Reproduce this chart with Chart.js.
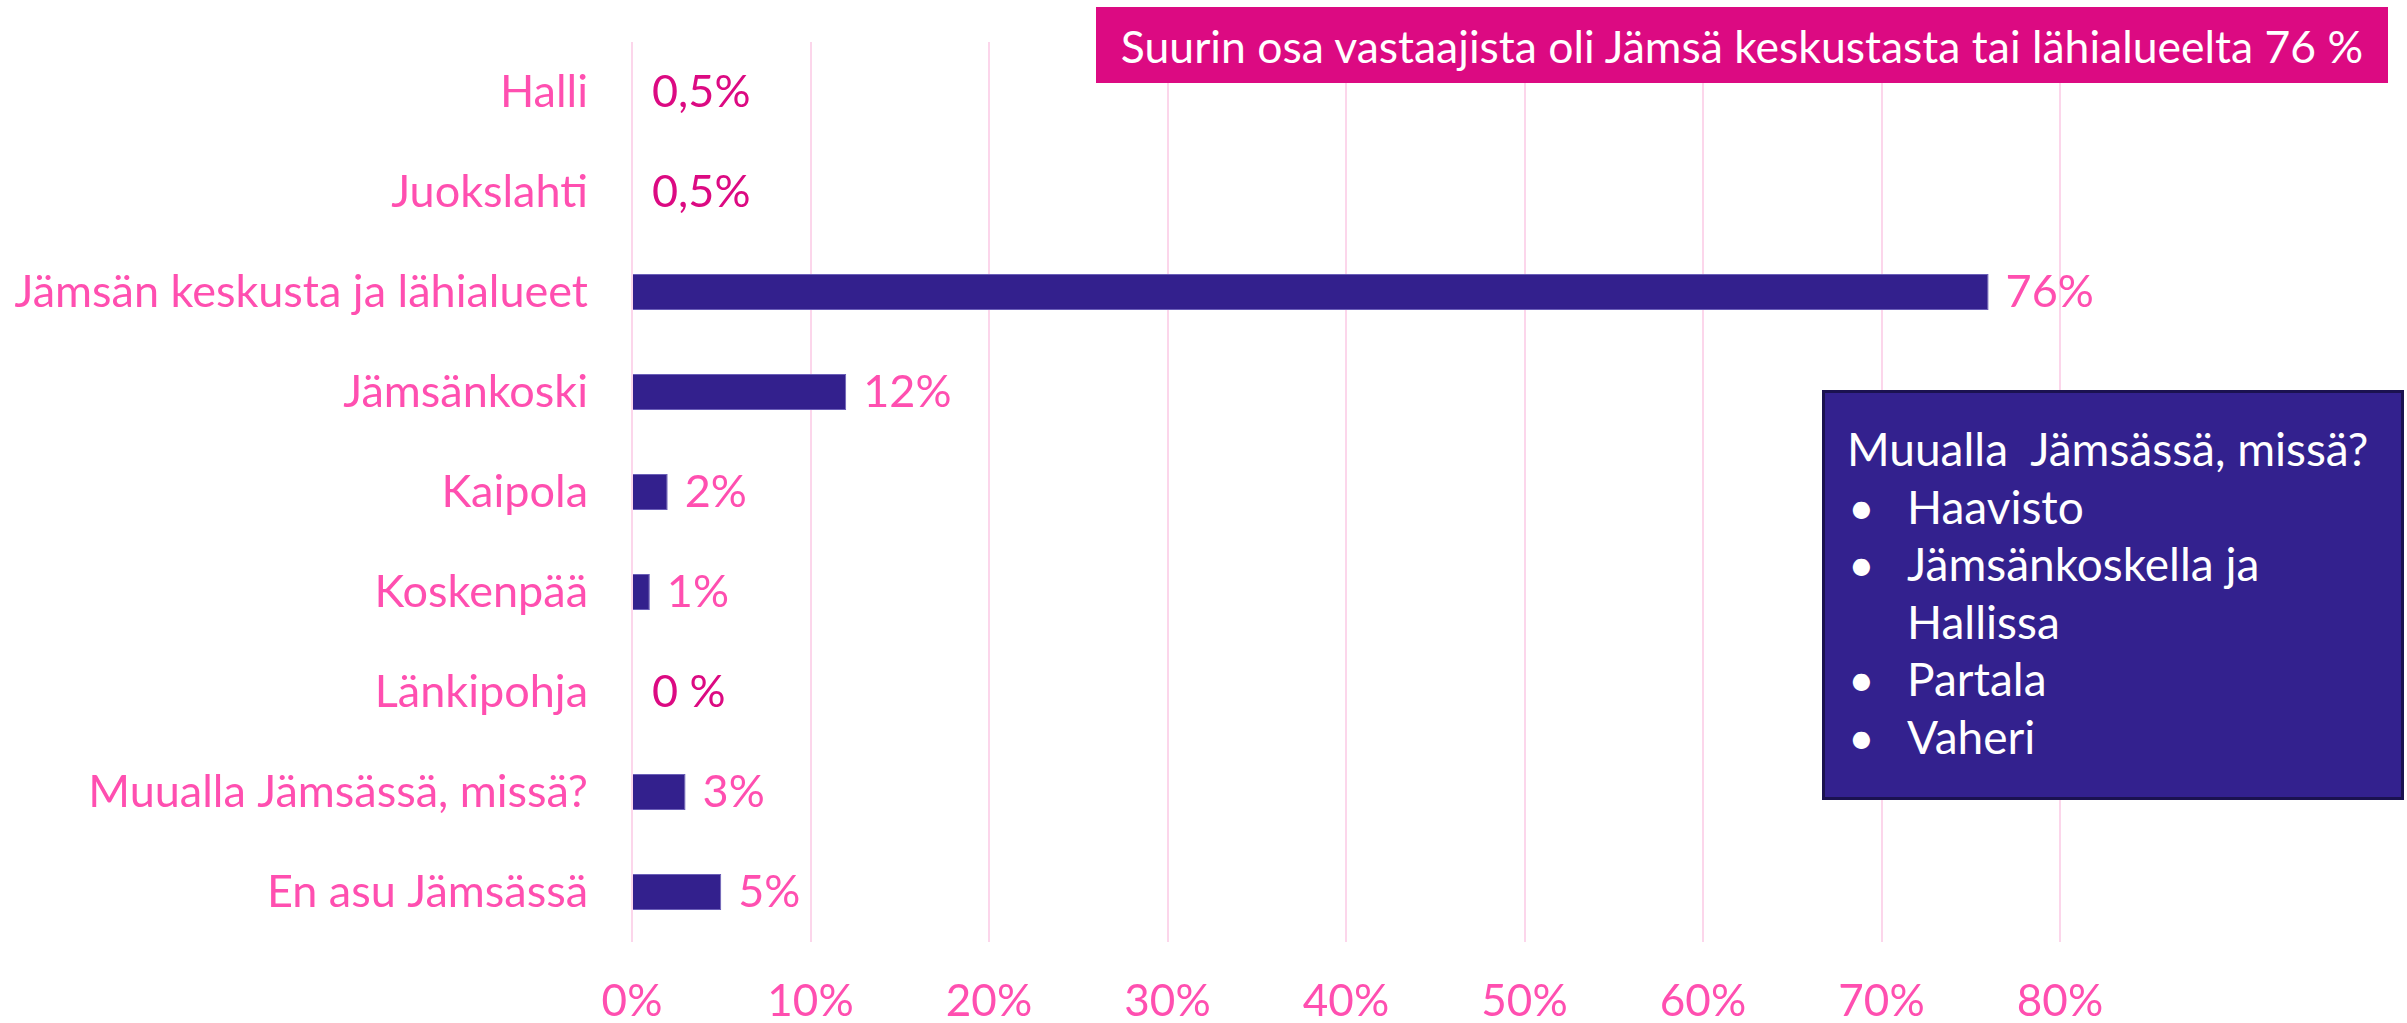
<!DOCTYPE html>
<html>
<head>
<meta charset="utf-8">
<script src="https://cdn.jsdelivr.net/npm/chart.js@4.4.1/dist/chart.umd.min.js"></script>
<style>
    body { margin: 0; background: #fff; }
    #wrap { position: relative; width: 2407px; height: 1023px; }
    #title-box {
        position: absolute; left: 1096px; top: 7px; width: 1292px; height: 76px;
        background: #dc0a82; color: #fff; font: 44.5px Lato, sans-serif;
        display: flex; align-items: center; justify-content: center;
    }
    #info-box {
        position: absolute; left: 1822px; top: 390px; width: 582px; height: 410px;
        box-sizing: border-box; border: 3px solid #1b1250; background: #33218e;
        color: #fff; font: 46px Lato, sans-serif; line-height: 57.6px;
        padding: 27px 0 0 22px; white-space: nowrap;
    }
    #info-box .item { position: relative; padding-left: 60px; }
    #info-box .item::before { content: '\2022'; position: absolute; left: 1px; top: 0; }
</style>
</head>
<body>
<div id="wrap">
    <canvas id="area-chart" width="2407" height="1023"></canvas>
    <div id="title-box">Suurin osa vastaajista oli Jämsä keskustasta tai lähialueelta 76 %</div>
    <div id="info-box">
        <div>Muualla&nbsp; Jämsässä, missä?</div>
        <div class="item">Haavisto</div>
        <div class="item">Jämsänkoskella ja<br>Hallissa</div>
        <div class="item">Partala</div>
        <div class="item">Vaheri</div>
    </div>
</div>
<script>
// Chart data
const categories = ['Halli', 'Juokslahti', 'Jämsän keskusta ja lähialueet', 'Jämsänkoski', 'Kaipola', 'Koskenpää', 'Länkipohja', 'Muualla Jämsässä, missä?', 'En asu Jämsässä'];
const shares = [0, 0, 76, 12, 2, 1, 0, 3, 5];
const shareLabels = ['0,5%', '0,5%', '76%', '12%', '2%', '1%', '0 %', '3%', '5%'];
const xTicks = [0, 10, 20, 30, 40, 50, 60, 70, 80];

const pink = '#ff4fb0';
const darkPink = '#dc0a82';
const labelColors = shareLabels.map((l, i) => (shares[i] === 0 ? darkPink : pink));

// Value labels next to bars
const valueLabels = {
    id: 'valueLabels',
    afterDatasetsDraw(chart) {
        const ctx = chart.ctx;
        const meta = chart.getDatasetMeta(0);
        ctx.save();
        ctx.font = '45px Lato';
        ctx.textAlign = 'left';
        ctx.textBaseline = 'middle';
        meta.data.forEach((bar, i) => {
            ctx.fillStyle = labelColors[i];
            // the zero rows have their text a bit further out
            const gap = shares[i] === 0 ? 20 : 17;
            ctx.fillText(shareLabels[i], bar.x + gap, bar.y);
        });
        ctx.restore();
    }
};

const areaChart = new Chart(document.getElementById('area-chart'), {
    type: 'bar',
    data: {
        labels: categories,
        datasets: [{
            data: shares,
            backgroundColor: '#33208d',
            borderColor: '#6b5fb8',
            borderWidth: 1,
            barPercentage: 0.36,
            categoryPercentage: 1
        }]
    },
    options: {
        indexAxis: 'y',
        responsive: false,
        animation: false,
        layout: { padding: { left: 0, right: 347, top: 42, bottom: 0 } },
        plugins: { legend: { display: false }, tooltip: { enabled: false } },
        scales: {
            x: {
                min: 0,
                max: 80,
                afterBuildTicks: scale => { scale.ticks = xTicks.map(v => ({ value: v })); },
                afterFit: scale => { scale.height = 81; },
                grid: { color: '#fcd6eb', lineWidth: 2, drawTicks: false },
                border: { display: false },
                ticks: {
                    padding: 33,
                    color: pink,
                    font: { family: 'Lato', size: 44 },
                    callback: v => v + '%'
                }
            },
            y: {
                afterFit: scale => {
                    scale.width = 632;
                    // keep the label padding from pushing the plot down
                    scale.paddingTop = 0;
                    scale.paddingBottom = 0;
                },
                grid: { display: false, drawTicks: false },
                border: { display: false },
                ticks: {
                    padding: 44,
                    color: pink,
                    font: { family: 'Lato', size: 45 }
                }
            }
        }
    },
    plugins: [valueLabels]
});
</script>
</body>
</html>
